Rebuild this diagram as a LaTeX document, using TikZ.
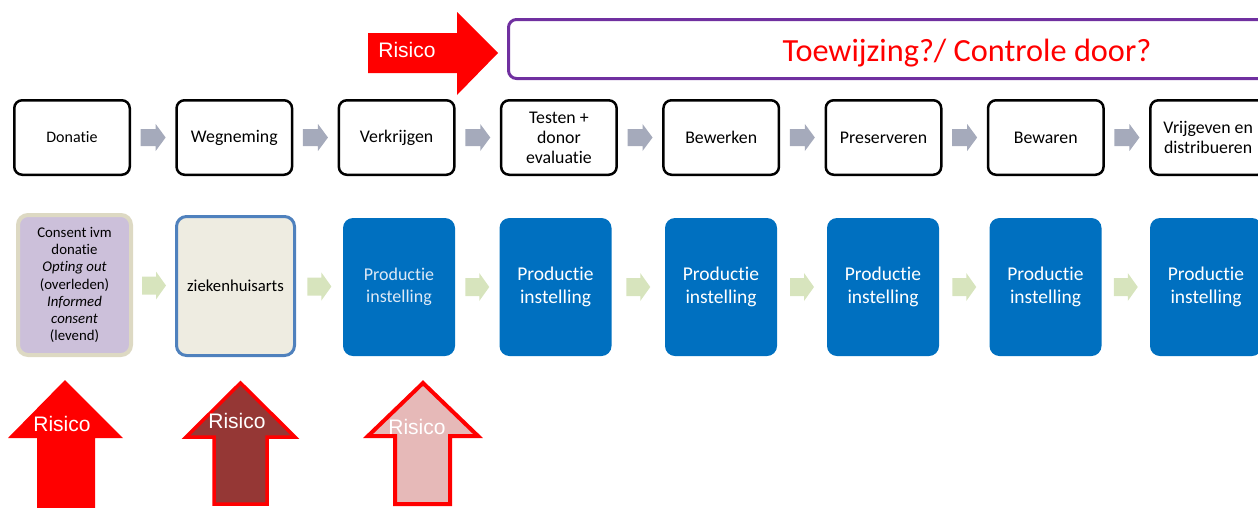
\documentclass[tikz,border=0pt]{standalone}
\usepackage{fontspec}
\setmainfont[Ligatures=NoCommon]{Carlito}
\newfontfamily\arialfont{Liberation Sans}
\usetikzlibrary{calc}
\definecolor{stepgray}{HTML}{A5AABB}
\definecolor{flowgreen}{HTML}{D7E4BD}
\definecolor{prodblue}{HTML}{0070C0}
\definecolor{paletext}{HTML}{DDE9F6}
\definecolor{lavfill}{HTML}{CCC0DA}
\definecolor{beigeline}{HTML}{DDD9C3}
\definecolor{beigefill}{HTML}{EEECE1}
\definecolor{docblue}{HTML}{4F81BD}
\definecolor{darkrisk}{HTML}{953735}
\definecolor{pinkrisk}{HTML}{E6B9B8}
\definecolor{purpleline}{HTML}{7030A0}
\definecolor{riskred}{HTML}{FF0000}

\begin{document}
\begin{tikzpicture}[x=1pt,y=-1pt,
  stepbox/.style={draw=black, line width=2.5pt, rounded corners=8pt, fill=white,
    minimum width=115.5pt, minimum height=74.5pt, align=center, inner sep=1pt,
    font=\fontsize{17.8}{20}\selectfont},
  prodbox/.style={fill=prodblue, rounded corners=10pt, minimum width=112pt,
    minimum height=138pt, text=white, align=center, inner sep=1pt,
    font=\fontsize{19.5}{22.5}\selectfont},
  risktext/.style={text=white, font=\arialfont\fontsize{21}{24}\selectfont, inner sep=0pt},
  grayarr/.pic={\fill[stepgray] (-12.5,-8.5) -- (2.5,-8.5) -- (2.5,-13.5) -- (12.5,0)
      -- (2.5,13.5) -- (2.5,8.5) -- (-12.5,8.5) -- cycle;},
  greenarr/.pic={\fill[flowgreen] (-12,-9) -- (2,-9) -- (2,-14) -- (12,0)
      -- (2,14) -- (2,9) -- (-12,9) -- cycle;}
]
\path[use as bounding box, clip] (0,0) rectangle (1258,507);

% process steps
\node[stepbox] (s1) at (72,137.5) {\fontsize{16}{19}\selectfont Donatie};
\node[stepbox] (s2) at (234.3,137.5) {Wegneming};
\node[stepbox] (s3) at (396.6,137.5) {Verkrijgen};
\node[stepbox] (s4) at (558.9,137.5) {Testen +\\donor\\evaluatie};
\node[stepbox] (s5) at (721.2,137.5) {Bewerken};
\node[stepbox] (s6) at (883.5,137.5) {Preserveren};
\node[stepbox] (s7) at (1045.8,137.5) {Bewaren};
\node[stepbox] (s8) at (1208.1,137.5) {Vrijgeven en\\distribueren};

\foreach \a/\b in {s1/s2,s2/s3,s3/s4,s4/s5,s5/s6,s6/s7,s7/s8}
  \pic at ($(\a.east)!0.5!(\b.west)$) {grayarr};

% responsible parties
\node[draw=beigeline, line width=4pt, fill=lavfill, rounded corners=10pt,
  minimum width=113pt, minimum height=140pt, align=center, inner sep=1pt,
  font=\fontsize{14.8}{17.3}\selectfont] (p1) at (74.5,285)
  {Consent ivm\\donatie\\\textit{Opting out}\\(overleden)\\\textit{Informed}\\\textit{consent}\\(levend)};
\node[draw=docblue, line width=3pt, fill=beigefill, rounded corners=10pt,
  minimum width=118pt, minimum height=139pt, align=center, inner sep=1pt,
  font=\fontsize{16.7}{19}\selectfont] (p2) at (235.5,286) {ziekenhuisarts};
\node[prodbox, text=paletext, font=\fontsize{18}{21.5}\selectfont] (p3) at (399,287) {Productie\\instelling};
\node[prodbox] (p4) at (555.5,287) {Productie\\instelling};
\node[prodbox] (p5) at (721,287) {Productie\\instelling};
\node[prodbox] (p6) at (883,287) {Productie\\instelling};
\node[prodbox] (p7) at (1045.5,287) {Productie\\instelling};
\node[prodbox] (p8) at (1206,287) {Productie\\instelling};

\foreach \a/\b in {p1/p2,p2/p3,p3/p4,p4/p5,p5/p6,p6/p7,p7/p8}
  \pic at ($(\a.east)!0.5!(\b.west)$) {greenarr};

% allocation / supervision question
\node[draw=purpleline, line width=3pt, rounded corners=8pt, minimum width=917pt,
  minimum height=59pt] (q) at (967,49) {};
\node[text=riskred, font=\fontsize{32.3}{36}\selectfont, inner sep=0pt] (qt)
  at ($(q.center)+(0,4)$) {Toewijzing?/ Controle door?};

% risk arrow towards the allocation question
\fill[riskred] (368,33) -- (457,33) -- (457,12) -- (498,53) -- (457,95) -- (457,73) -- (368,73) -- cycle;
\node[risktext] (r0) at (407,50) {Risico};

% risk arrows below the parties
\fill[riskred] (37,510) -- (37,438) -- (8,438) -- (65,380) -- (123,438) -- (95,438) -- (95,510) -- cycle;
\node[risktext] (r1) at (62,424) {Risico};

\filldraw[fill=darkrisk, draw=riskred, line width=3.5pt, line join=miter]
  (214,504) -- (214,437) -- (186,437) -- (240.5,383) -- (295,437) -- (267,437) -- (267,504) -- cycle;
\node[risktext] (r2) at (237,421) {Risico};

\filldraw[fill=pinkrisk, draw=riskred, line width=4pt, line join=miter]
  (395,504) -- (395,436) -- (368,436) -- (423,383) -- (478,436) -- (450,436) -- (450,504) -- cycle;
\node[risktext] (r3) at (417,427) {Risico};
\end{tikzpicture}
\end{document}
